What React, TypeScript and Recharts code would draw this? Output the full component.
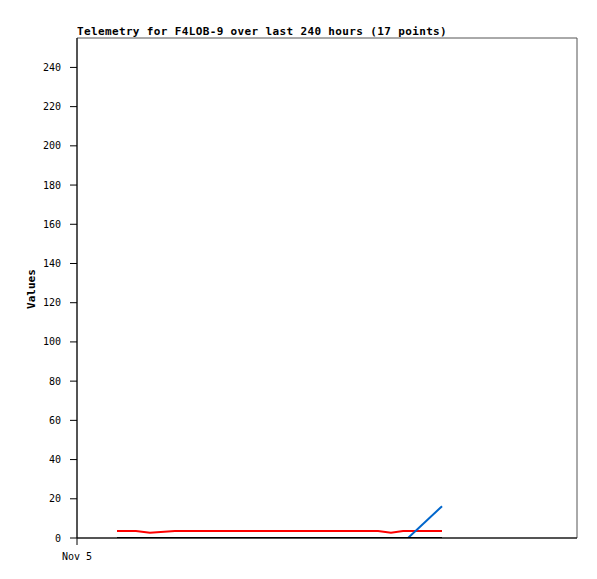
import React from "react";
import {
  Line,
  LineChart,
  ReferenceArea,
  XAxis,
  YAxis,
} from "recharts";

// hours since Nov 5 00:00
const redHours = [19.2, 28.3, 35.0, 47.0, 144.5, 150.7, 156.5, 175.2];
const redValues = [3.6, 3.6, 2.7, 3.6, 3.6, 2.7, 3.6, 3.6];
const blackHours = [19.2, 175.2];
const blackValues = [0, 0];
const blueHours = [158.9, 175.2];
const blueValues = [0, 16.2];

const yTicks = [0, 20, 40, 60, 80, 100, 120, 140, 160, 180, 200, 220, 240];
const xTicks = [0];
const xTickLabels = ["Nov 5"];

const toSeries = (hours: number[], values: number[]) =>
  hours.map((t, i) => ({ t, v: values[i] }));

const redData = toSeries(redHours, redValues);
const blackData = toSeries(blackHours, blackValues);
const blueData = toSeries(blueHours, blueValues);

const font = "'DejaVu Sans Mono', monospace";

const YLabel = () => (
  <text
    x={35}
    y={289}
    transform="rotate(-90 35 289)"
    textAnchor="middle"
    fontFamily={font}
    fontSize={11}
    fontWeight="bold"
    fill="#000"
  >
    Values
  </text>
);

export default function App() {
  return (
    <div style={{ position: "absolute", left: 0, top: 0, width: 597, height: 579, background: "#fff" }}>
      <div
        style={{
          position: "absolute",
          left: 77,
          top: 25,
          fontFamily: font,
          fontSize: 11,
          fontWeight: "bold",
          letterSpacing: "0.36px",
          lineHeight: "14px",
          whiteSpace: "nowrap",
        }}
      >
        Telemetry for F4LOB-9 over last 240 hours (17 points)
      </div>
      <LineChart
        width={597}
        height={579}
        margin={{ top: 38, right: 20, left: 27, bottom: 11 }}
      >
        <ReferenceArea
          x1={0}
          x2={240}
          y1={0}
          y2={255}
          fill="none"
          stroke="#555"
          strokeWidth={1}
          ifOverflow="visible"
        />
        <XAxis
          dataKey="t"
          type="number"
          domain={[0, 240]}
          ticks={xTicks}
          tickFormatter={(v) => xTickLabels[xTicks.indexOf(Number(v))] ?? ""}
          height={30}
          stroke="#000"
          tickSize={7}
          tickMargin={8}
          tick={{ fill: "#000", fontSize: 10, fontFamily: font }}
          allowDataOverflow
        />
        <YAxis
          type="number"
          domain={[0, 255]}
          ticks={yTicks}
          width={50}
          stroke="#000"
          tickSize={7}
          tickMargin={9}
          tick={{ fill: "#000", fontSize: 10, fontFamily: font }}
          label={<YLabel />}
          allowDataOverflow
        />
        <Line
          data={redData}
          dataKey="v"
          stroke="#ff0000"
          strokeWidth={2}
          dot={false}
          isAnimationActive={false}
        />
        <Line
          data={blueData}
          dataKey="v"
          stroke="#0066cc"
          strokeWidth={2}
          dot={false}
          isAnimationActive={false}
        />
        <Line
          data={blackData}
          dataKey="v"
          stroke="#000"
          strokeWidth={2}
          dot={false}
          isAnimationActive={false}
        />
      </LineChart>
    </div>
  );
}
